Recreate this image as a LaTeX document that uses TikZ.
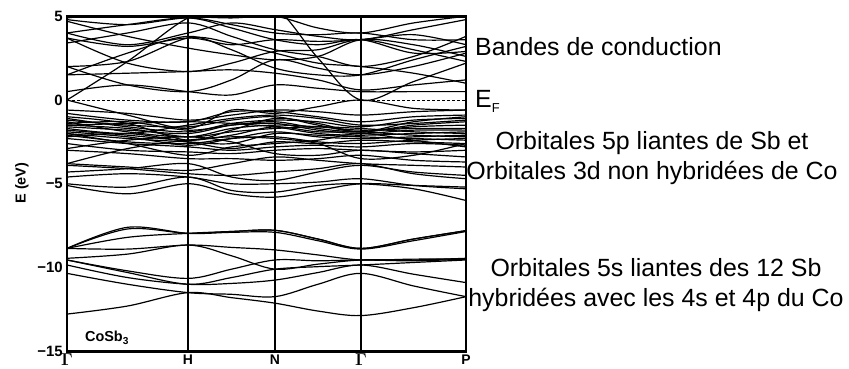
\documentclass[tikz,border=0pt]{standalone}
\usepackage{fontspec}
\setmainfont{Liberation Sans}
\usepackage{tikz}

% one band: energies at G, mid, H, mid, N, mid, G, mid, P
\newcommand{\kband}[9]{\draw[band] plot[smooth, tension=0.55] coordinates {(67,#1) (127.5,#2) (188,#3) (231.5,#4) (275,#5) (318,#6) (361,#7) (413.5,#8) (466,#9)};}

\begin{document}
\begin{tikzpicture}[x=1bp, y=16.75bp,
  band/.style={line width=1.2bp},
  kline/.style={line width=1.8bp},
  ticklab/.style={anchor=east, inner sep=1bp, font=\bfseries\fontsize{15}{15}\selectfont},
  klab/.style={inner sep=0pt, font=\bfseries\fontsize{14}{14}\selectfont},
  gamlab/.style={inner sep=0pt, font={\boldmath\fontsize{16}{16}\selectfont}},
  notelab/.style={inner sep=0pt, align=center, font=\fontsize{25}{30}\selectfont}]
  \useasboundingbox (0,-16) rectangle (849,5.97);

  % Bands
  \begin{scope}
    \clip (67,-15) rectangle (466,5);
    % conduction
    \kband{0.0}{2.3}{4.9}{5.3}{5.5}{2.5}{0.0}{1.1}{2.2}
    \kband{0.5}{0.9}{0.5}{0.3}{0.9}{0.7}{0.5}{0.5}{0.5}
    \kband{1.5}{1.6}{1.7}{1.8}{1.6}{1.2}{0.6}{0.9}{1.2}
    \kband{2.0}{0.9}{0.5}{1.2}{2.4}{1.9}{1.5}{2.0}{2.8}
    \kband{2.0}{2.3}{3.7}{3.4}{2.8}{2.2}{2.0}{1.6}{1.0}
    \kband{3.7}{2.2}{1.7}{2.2}{2.9}{3.0}{3.6}{3.0}{2.3}
    \kband{3.7}{3.2}{3.7}{3.3}{3.6}{3.5}{3.6}{3.9}{3.3}
    \kband{4.0}{3.3}{4.0}{4.6}{4.2}{3.8}{3.6}{4.2}{4.8}
    \kband{4.0}{4.5}{4.9}{4.3}{3.6}{3.3}{3.6}{2.8}{2.9}
    \kband{4.8}{4.5}{4.9}{4.5}{4.0}{3.9}{4.0}{3.6}{3.6}
    \kband{4.9}{5.2}{5.0}{4.9}{5.0}{4.3}{4.0}{4.6}{5.0}
    \kband{3.4}{4.0}{4.6}{3.8}{3.0}{2.6}{2.0}{2.6}{3.8}
    \kband{1.5}{2.8}{3.8}{3.0}{1.9}{1.5}{1.5}{2.4}{3.2}
    \kband{4.7}{3.8}{3.1}{2.7}{2.4}{2.6}{3.6}{3.3}{2.6}
    % valence
    \kband{0.0}{-0.9}{-1.7}{-0.6}{-0.8}{-0.4}{0.0}{-0.5}{-0.6}
    \kband{-0.6}{-0.8}{-1.2}{-0.9}{-0.6}{-0.7}{-0.9}{-0.7}{-0.6}
    \kband{-0.8}{-1.2}{-1.3}{-0.7}{-0.7}{-1.0}{-1.3}{-1.0}{-0.9}
    \kband{-1.0}{-1.4}{-2.4}{-1.8}{-1.1}{-1.4}{-1.9}{-1.3}{-1.0}
    \kband{-1.2}{-1.5}{-1.6}{-1.2}{-1.0}{-1.5}{-1.9}{-1.5}{-1.3}
    \kband{-1.4}{-1.3}{-1.8}{-1.5}{-1.3}{-1.7}{-1.9}{-1.6}{-1.5}
    \kband{-1.6}{-1.8}{-2.0}{-1.5}{-1.4}{-1.8}{-2.0}{-1.8}{-1.8}
    \kband{-1.7}{-2.0}{-1.5}{-1.1}{-0.9}{-1.1}{-1.5}{-1.4}{-1.2}
    \kband{-1.8}{-2.1}{-2.4}{-2.1}{-1.6}{-1.9}{-1.9}{-2.1}{-2.2}
    \kband{-2.0}{-2.3}{-2.5}{-2.6}{-2.0}{-2.1}{-2.2}{-2.3}{-2.4}
    \kband{-2.0}{-2.6}{-3.3}{-2.8}{-2.6}{-2.4}{-2.0}{-2.4}{-2.8}
    \kband{-2.2}{-2.0}{-2.5}{-2.9}{-2.5}{-2.6}{-2.4}{-2.5}{-2.6}
    \kband{-2.3}{-2.6}{-2.8}{-3.0}{-2.8}{-2.7}{-2.8}{-2.6}{-2.7}
    \kband{-2.6}{-3.0}{-3.1}{-3.2}{-3.0}{-2.9}{-3.0}{-3.1}{-3.0}
    \kband{-2.9}{-2.4}{-2.2}{-2.5}{-3.2}{-3.3}{-3.0}{-3.2}{-3.4}
    \kband{-3.0}{-3.2}{-3.5}{-3.5}{-3.6}{-3.5}{-3.3}{-3.6}{-3.7}
    \kband{-3.8}{-2.9}{-2.4}{-2.2}{-2.3}{-2.6}{-3.5}{-3.3}{-2.6}
    \kband{-3.8}{-4.0}{-4.2}{-3.8}{-3.4}{-3.6}{-3.8}{-3.9}{-4.0}
    \kband{-3.9}{-4.1}{-4.4}{-4.5}{-4.3}{-4.1}{-3.8}{-4.4}{-4.7}
    \kband{-4.3}{-4.1}{-3.8}{-4.6}{-4.8}{-4.3}{-3.9}{-4.3}{-4.5}
    \kband{-4.6}{-4.4}{-4.6}{-5.0}{-5.0}{-4.9}{-4.7}{-5.1}{-5.3}
    \kband{-5.0}{-5.2}{-4.6}{-5.4}{-5.5}{-5.1}{-5.0}{-5.3}{-6.0}
    \kband{-5.1}{-5.6}{-5.0}{-5.6}{-5.8}{-5.4}{-5.0}{-5.1}{-5.2}
    \kband{-1.5}{-1.7}{-2.2}{-1.9}{-1.7}{-1.6}{-1.7}{-1.9}{-2.0}
    \kband{-1.9}{-2.2}{-2.7}{-2.3}{-1.9}{-2.2}{-2.3}{-2.2}{-2.1}
    \kband{-1.1}{-1.6}{-1.9}{-1.4}{-1.2}{-1.3}{-1.6}{-1.2}{-1.1}
    \kband{-1.3}{-1.9}{-2.2}{-1.7}{-1.5}{-1.6}{-1.8}{-1.7}{-1.7}
    \kband{-1.5}{-1.4}{-1.3}{-1.4}{-1.6}{-2.0}{-2.1}{-2.0}{-1.9}
    \kband{-2.1}{-2.5}{-2.6}{-2.3}{-2.2}{-2.5}{-2.6}{-2.4}{-2.3}
    % Sb 5s
    \kband{-12.78}{-12.3}{-11.5}{-11.8}{-12.13}{-12.6}{-12.87}{-12.4}{-11.74}
    \kband{-10.35}{-11.0}{-11.5}{-11.6}{-11.74}{-11.0}{-10.35}{-11.1}{-11.74}
    \kband{-9.85}{-10.6}{-11.0}{-10.95}{-10.75}{-10.3}{-9.85}{-10.4}{-10.9}
    \kband{-9.55}{-10.2}{-10.65}{-10.1}{-9.55}{-9.6}{-9.55}{-9.6}{-9.5}
    \kband{-9.55}{-10.3}{-11.0}{-10.6}{-10.1}{-9.95}{-9.85}{-9.7}{-9.55}
    \kband{-9.45}{-9.2}{-8.66}{-9.3}{-10.1}{-9.8}{-9.55}{-9.55}{-9.45}
    \kband{-8.86}{-8.9}{-8.66}{-8.8}{-8.95}{-9.25}{-9.55}{-9.5}{-9.5}
    \kband{-8.86}{-8.2}{-7.96}{-7.85}{-7.78}{-8.3}{-8.86}{-8.3}{-7.8}
    \kband{-8.86}{-7.7}{-7.96}{-7.85}{-7.78}{-8.3}{-8.86}{-8.3}{-7.8}
    \kband{-8.86}{-7.6}{-7.96}{-7.9}{-7.9}{-8.4}{-8.9}{-8.4}{-7.85}
  \end{scope}

  % Frame and high-symmetry lines
  \draw[dashed, dash pattern=on 3bp off 2bp, line width=0.9bp] (67,0) -- (467,0);
  \draw[kline] (188,-15) -- (188,5);
  \draw[kline] (275,-15) -- (275,5);
  \draw[kline] (361,-15) -- (361,5);
  \draw[line width=2.8bp] (67,-15) rectangle (466,5);

  % Axis labels
  \node[ticklab] (t5) at (64,5) {5};
  \node[ticklab] (t0) at (64,0) {0};
  \node[ticklab] (tm5) at (64,-5) {−5};
  \node[ticklab] (tm10) at (64,-10) {−10};
  \node[ticklab] (tm15) at (64,-15) {−15};
  \node[rotate=90, font=\bfseries\fontsize{14.5}{15}\selectfont] (elab) at (22,-4.96) {E (eV)};

  \node[gamlab] (g1) at (67,-15.5) {$\Gamma$};
  \node[klab] (h) at (188,-15.5) {H};
  \node[klab] (n) at (275,-15.5) {N};
  \node[gamlab] (g2) at (361,-15.5) {$\Gamma$};
  \node[klab] (p) at (466,-15.5) {P};
  \node[klab, font=\bfseries\fontsize{14.5}{15}\selectfont] (cosb) at (107,-14.2) {CoSb\textsubscript{3}};

  % Notes
  \node[notelab, anchor=west] (cond) at (475,3.16) {Bandes de conduction};
  \node[notelab, anchor=west] (ef) at (475,-0.1) {E\raisebox{-0.4ex}{\fontsize{13}{13}\selectfont F}};
  \node[notelab] (orb5p) at (652,-3.46) {Orbitales 5p liantes de Sb et\\Orbitales 3d non hybridées de Co};
  \node[notelab] (orb5s) at (656,-11.04) {Orbitales 5s liantes des 12 Sb\\hybridées avec les 4s et 4p du Co};
\end{tikzpicture}
\end{document}
